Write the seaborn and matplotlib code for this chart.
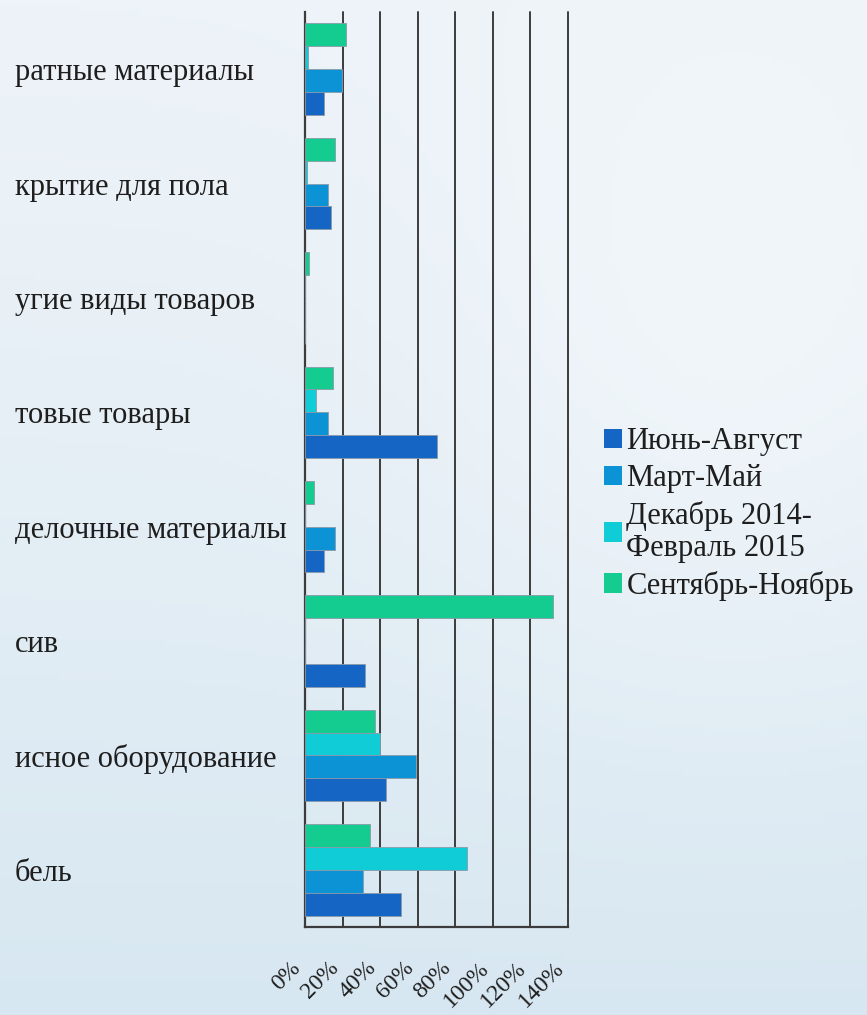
# -*- coding: utf-8 -*-
# Горизонтальная диаграмма: прирост по видам товаров за 4 периода
import pandas as pd
import matplotlib.pyplot as plt
import matplotlib.colors as mcolors
from matplotlib.patches import Patch
from matplotlib.ticker import FuncFormatter
import seaborn as sns
import numpy as np

sns.set_theme(style="white")
plt.rcParams['font.family'] = ['Liberation Serif', 'DejaVu Serif']

# --- ДАННЫЕ ---
categories = ["ратные материалы", "крытие для пола", "угие виды товаров",
              "товые товары", "делочные материалы", "сив",
              "исное оборудование", "бель"]

periods = ["Сентябрь-Ноябрь", "Декабрь 2014-\nФевраль 2015", "Март-Май", "Июнь-Август"]

sep_nov = [22, 16, 2.3, 15, 5, 132, 37, 34.5]
dec_feb = [1.8, 1.2, 0, 6, 0, 0, 40, 86]
mar_may = [19.5, 12.5, 0, 12, 16, 0, 59, 31]
jun_aug = [10, 14, 0, 70, 10, 32, 43, 51]

colors = {"Июнь-Август": "#1565c4",
          "Март-Май": "#0b93d6",
          "Декабрь 2014-\nФевраль 2015": "#10ccd6",
          "Сентябрь-Ноябрь": "#14cc90"}

df = pd.DataFrame({
    "Категория": categories * 4,
    "Период": sum([[p] * len(categories) for p in periods], []),
    "Значение": sep_nov + dec_feb + mar_may + jun_aug,
})

FS = 22
TXT = "#1e1e1e"

# --- ФИГУРА И ФОН ---
fig = plt.figure(figsize=(8.67, 10.15), dpi=100)
bg = fig.add_axes([0, 0, 1, 1], zorder=-10)
yy, xx = np.mgrid[0:1:200j, 0:1:200j]
top = np.array(mcolors.to_rgb("#edf3f8"))
bottom = np.array(mcolors.to_rgb("#d7e7f1"))
grad = top[None, None, :] * (1 - yy[..., None] ** 1.3) + bottom[None, None, :] * (yy[..., None] ** 1.3)
glow = np.exp(-(((xx - 0.85) / 0.35) ** 2 + ((yy - 0.3) / 0.35) ** 2))
grad = grad * (1 - 0.6 * glow[..., None]) + np.array(mcolors.to_rgb("#f6f9fc")) * 0.6 * glow[..., None]
bg.imshow(grad, aspect="auto", extent=[0, 1, 0, 1])
bg.axis("off")

ax = fig.add_axes([305 / 867, 1 - 927 / 1015, 263 / 867, 915 / 1015])
ax.patch.set_alpha(0)

sns.barplot(data=df, x="Значение", y="Категория", hue="Период",
            order=categories, hue_order=periods, palette=colors,
            orient="h", width=0.8, saturation=1, errorbar=None,
            edgecolor="#8a9aa8", linewidth=0.6, ax=ax, zorder=3)

ax.set_xlim(0, 140)
ax.set_xticks(np.arange(0, 141, 20))
ax.xaxis.set_major_formatter(FuncFormatter(lambda v, _: f"{int(v)}%"))
ax.grid(axis="x", color="#3c3c3c", linewidth=1.4, zorder=1)
ax.grid(axis="y", visible=False)
for gl in ax.get_xgridlines():
    gl.set_clip_on(False)
ax.set_xlabel("")
ax.set_ylabel("")

for side in ["top", "right"]:
    ax.spines[side].set_visible(False)
for side in ["left", "bottom"]:
    ax.spines[side].set_color("#3c3c3c")
    ax.spines[side].set_linewidth(1.6)

ax.tick_params(axis="y", length=0, pad=208.8, labelsize=FS, labelcolor=TXT)
for lbl in ax.get_yticklabels():
    lbl.set_horizontalalignment("left")
ax.tick_params(axis="x", length=0, pad=22, labelsize=17, labelcolor=TXT)
for lbl in ax.get_xticklabels():
    lbl.set_rotation(45)
    lbl.set_horizontalalignment("right")
    lbl.set_verticalalignment("top")

# легенда в обратном порядке
ax.get_legend().remove()
handles = [Patch(facecolor=colors[p], edgecolor="none") for p in periods[::-1]]
leg = fig.legend(handles, periods[::-1], loc="center left", bbox_to_anchor=(576 / 867, 1 - 514 / 1015),
                 frameon=False, fontsize=FS, labelcolor=TXT,
                 handlelength=0.6, handleheight=0.6, handletextpad=0.15, labelspacing=0.25)
for t in leg.get_texts():
    t.set_linespacing(1.15)

plt.savefig("out.png", dpi=100)
plt.close()
